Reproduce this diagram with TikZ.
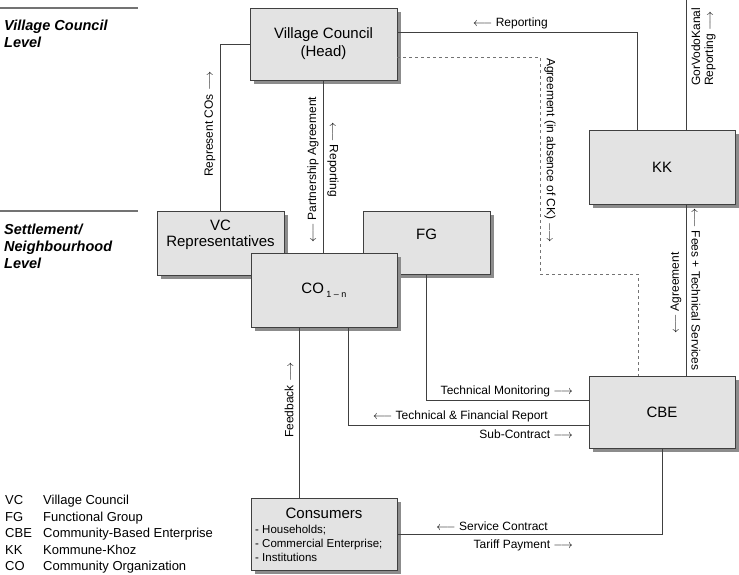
\documentclass[tikz,border=0pt]{standalone}
\usepackage{fontspec}
\setmainfont{Liberation Sans}
\usetikzlibrary{shadows}
\newcommand{\arrL}{$\longleftarrow$}
\newcommand{\arrR}{$\longrightarrow$}

\begin{document}
\begin{tikzpicture}[x=1pt, y=-1pt,
  box/.style={draw=black!75, fill=black!11, line width=0.8pt, inner sep=2pt, align=center,
    font=\fontsize{15}{17}\selectfont,
    drop shadow={shadow xshift=3.5pt, shadow yshift=-3.5pt, fill=black!45, opacity=1}},
  boxtext/.style={font=\fontsize{15}{16}\selectfont, align=center, inner sep=0pt},
  conn/.style={draw=black!75, line width=0.8pt},
  dashconn/.style={draw=black!55, line width=0.8pt, dashed},
  lbl/.style={font=\fontsize{12}{13}\selectfont, inner sep=0pt},
  level/.style={font=\fontsize{14.5}{17}\selectfont\bfseries\itshape, align=left, anchor=north west, inner sep=0pt},
  levelrule/.style={draw=black!55, line width=1.2pt}]
\useasboundingbox (0,0) rectangle (739,574);

\draw [levelrule] (0,8) -- (138,8);
\draw [levelrule] (0,211) -- (138,211);
\node [level] (hvc) at (4,20) {Village Council\\Level};
\node [level] (hsn) at (4,224) {Settlement/\\Neighbourhood\\Level};

\node [box, minimum width=147pt, minimum height=72pt] (vc) at (323.5,44) {Village Council\\[1pt](Head)};
\node [box, minimum width=146pt, minimum height=74pt] (kk) at (662,167) {KK};
\node [box, minimum width=127pt, minimum height=64pt] (vcr) at (220.5,243) {};
\node [boxtext] (vcrtext) at (220.5,235) {VC\\Representatives};
\node [box, minimum width=127pt, minimum height=63pt] (fg) at (426.5,242.5) {};
\node [boxtext] (fgtext) at (426.5,234) {FG};
\node [box, minimum width=146pt, minimum height=74pt] (co) at (324,290) {CO\,\raisebox{-4pt}{\fontsize{9}{9}\selectfont 1 -- n}};
\node [box, minimum width=146pt, minimum height=72pt] (cbe) at (662,412) {CBE};
\node [box, minimum width=146pt, minimum height=72pt] (cons) at (324,534) {};
\node [font=\fontsize{15}{17}\selectfont, inner sep=0pt] (constitle) at (324,513) {Consumers};
\node [font=\fontsize{11.5}{14}\selectfont, align=left, anchor=north west, inner sep=0pt] (conslist) at (255,524.5)
  {- Households;\\- Commercial Enterprise;\\- Institutions};

\coordinate (gvk) at (686,0);
\coordinate (dbend) at (540,274);

\draw [conn] (vc.west) -| (vcr.north);
\draw [conn] (vc.south) -- (vc.south |- co.north);
\draw [conn] ([yshift=12pt]vc.east) -| ([xshift=-25pt]kk.north);
\draw [conn] (gvk) -- (gvk |- kk.north);
\draw [conn] ([xshift=24pt]kk.south) -- ([xshift=24pt]cbe.north);
\draw [dashconn] ([yshift=-13pt]vc.east) -| (dbend) -| ([xshift=-24pt]cbe.north);
\draw [conn] (fg.south) |- ([yshift=12pt]cbe.west);
\draw [conn] ([xshift=24pt]co.south) |- ([yshift=-13pt]cbe.west);
\draw [conn] ([xshift=-25pt]co.south) -- ([xshift=-25pt]cons.north);
\draw [conn] (cbe.south) |- (cons.east);

\node [lbl, anchor=east] (lrep) at (548,23) {\arrL\ Reporting};
\node [lbl, rotate=90] (lrepco) at (210,124) {Represent COs \arrR};
\node [lbl, rotate=90, anchor=west] (lpart) at (313,243) {\arrL\ Partnership Agreement};
\node [lbl, rotate=-90, anchor=west] (lrepvc) at (333,122) {\arrL\ Reporting};
\node [lbl, rotate=90, anchor=west, align=left] (lgvk) at (703.5,86) {GorVodoKanal\\Reporting \arrR};
\node [lbl, rotate=-90, anchor=west] (lagck) at (550,58) {Agreement (in absence of CK) \arrR};
\node [lbl, rotate=-90, anchor=west] (lfees) at (696,208) {\arrL\ Fees + Technical Services};
\node [lbl, rotate=90, anchor=west] (lagr) at (676,334) {\arrL\ Agreement};
\node [lbl, anchor=east] (ltm) at (573,391) {Technical Monitoring \arrR};
\node [lbl, anchor=east] (ltfr) at (548,416) {\arrL\ Technical \& Financial Report};
\node [lbl, anchor=east] (lsub) at (573,434) {Sub-Contract \arrR};
\node [lbl, rotate=90, anchor=west] (lfb) at (289,438) {Feedback \arrR};
\node [lbl, anchor=east] (lsc) at (548,526) {\arrL\ Service Contract};
\node [lbl, anchor=east] (ltp) at (573,545) {Tariff Payment \arrR};

\node [font=\fontsize{13}{16.5}\selectfont, anchor=north west, inner sep=0pt] (legend) at (5,493) {%
  \begin{tabular}{@{}p{38pt}@{}l@{}}
  VC & Village Council\\
  FG & Functional Group\\
  CBE & Community-Based Enterprise\\
  KK & Kommune-Khoz\\
  CO & Community Organization
  \end{tabular}};
\end{tikzpicture}
\end{document}
